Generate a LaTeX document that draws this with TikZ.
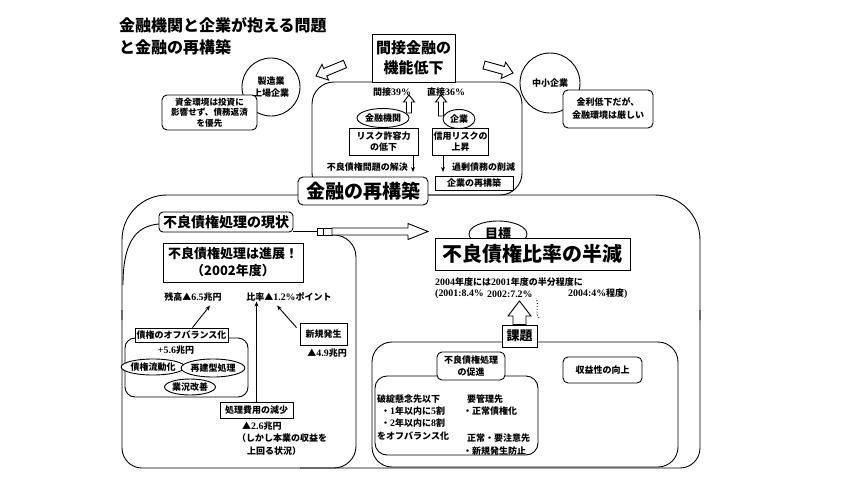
\documentclass[tikz,border=0pt]{standalone}
\usepackage{fontspec}
\setmainfont{Noto Sans CJK JP}
\newfontfamily\tmd[Scale=1.1]{Liberation Serif}
\usetikzlibrary{shapes.geometric,calc,arrows.meta}
\tikzset{
  lw/.style={line width=0.9pt},
  box/.style={draw, lw, fill=white, inner sep=1pt, align=center},
  rbox/.style={box, rounded corners=5pt},
  ell/.style={draw, lw, fill=white, ellipse, inner sep=0pt, align=center},
  txt/.style={inner sep=0pt, align=left},
  f9/.style={font=\fontsize{9}{11.5}\selectfont\bfseries},
  f8/.style={font=\fontsize{8.6}{11}\selectfont\bfseries},
  arr/.style={lw, -{Stealth[length=5pt,width=4pt]}},
  harr/.style={draw, lw, fill=white, line join=miter},
}
\newcommand{\hollowarr}[5]{%
  \coordinate (ha-H) at ($(#2)!#5!(#1)$);
  \draw[harr] ($(#1)!#3!90:(#2)$) -- ($(ha-H)!#3!90:(#2)$) -- ($(ha-H)!#4!90:(#2)$) -- (#2)
    -- ($(ha-H)!#4!-90:(#2)$) -- ($(ha-H)!#3!-90:(#2)$) -- ($(#1)!#3!-90:(#2)$) -- cycle;
}
\begin{document}
\begin{tikzpicture}[x=1pt,y=-1pt]
\fill[white] (0,0) rectangle (844,483);
\useasboundingbox (0,0) rectangle (844,483);

% title
\node[txt, anchor=north west, font=\fontsize{16}{22}\selectfont\bfseries] (title) at (119,17) {金融機関と企業が抱える問題\\と金融の再構築};

% big outer rect
\draw[lw, rounded corners=45] (122,320) -- (122,195) -- (700,195) -- (700,320);
\draw[lw, rounded corners=20] (122,310) -- (122,468) -- (700,468) -- (700,310);

% top rect
\draw[lw, rounded corners=22] (417,195) -- (312,195) -- (312,82) -- (522,82) -- (522,195) -- cycle;

% inner rect (genjo)
\draw[lw] (159,224) .. controls (134,226) and (123,245) .. (123,285);
\draw[lw, rounded corners=22] (330,235) -- (356,235) -- (356,468) -- (300,468);

% kadai rect
\draw[lw, rounded corners=20] (372,342) rectangle (678,467);
\draw[lw, rounded corners=10] (125,338) rectangle (248,397);
\draw[lw, rounded corners=12] (375,376) rectangle (538,455);

% circles top
\node[ell, circle, minimum size=58pt, f9] (seizo) at (271,87) {製造業\\上場企業};
\node[rbox, minimum width=95pt, minimum height=35pt, font=\fontsize{8.6}{10.5}\selectfont\bfseries] (shikin) at (209.5,112.5) {資金環境は投資に\\影響せず、債務返済\\を優先};
\node[ell, circle, minimum size=60pt, f9] (chusho) at (550,83) {中小企業};
\node[rbox, minimum width=90pt, minimum height=38pt, font=\fontsize{9}{13}\selectfont\bfseries] (kinri) at (608,109) {金利低下だが、\\金融環境は厳しい};

% top box
\node[box, minimum width=83pt, minimum height=48pt, font=\fontsize{15}{20}\selectfont\bfseries] (kansetsu) at (413.5,58) {間接金融の\\機能低下};

% top hollow arrows
\coordinate (la1) at (345,64); \coordinate (la2) at (316,76);
\hollowarr{la1}{la2}{4pt}{8.5pt}{10pt}
\coordinate (ra1) at (484,65); \coordinate (ra2) at (513,73);
\hollowarr{ra1}{ra2}{4pt}{8.5pt}{10pt}

% inside top rect
\node[txt, f9] (k39) at (392,92) {間接{\tmd 39\%}};
\node[txt, f9] (c36) at (446,92) {直接{\tmd 36\%}};
\node[ell, f9, minimum width=52pt, minimum height=19pt] (kinyu) at (383,118) {金融機関};
\node[ell, f9, minimum width=32pt, minimum height=19pt] (kigyo) at (459,119) {企業};
\coordinate (ua1) at (409,113); \coordinate (ua2) at (409,95);
\hollowarr{ua1}{ua2}{2.5pt}{5.5pt}{7pt}
\coordinate (ub1) at (441,116); \coordinate (ub2) at (441,95);
\hollowarr{ub1}{ub2}{2.5pt}{5.5pt}{7pt}
\node[box, f9, minimum width=69pt, minimum height=27pt] (risk) at (383.5,141.5) {リスク許容力\\の低下};
\node[box, f9, minimum width=55pt, minimum height=27pt] (shinyo) at (460.5,141.5) {信用リスクの\\上昇};
\node[txt, f9, anchor=east] (furyo) at (408,167) {不良債権問題の解決};
\coordinate (k1) at (413,172);
\draw[arr] (risk.south -| k1) -- (k1);
\node[txt, f9, anchor=west] (kajo) at (452,167) {過剰債務の削減};
\coordinate (k2) at (443,172);
\draw[arr] (shinyo.south -| k2) -- (k2);
\node[box, f9, minimum width=78pt, minimum height=14pt, inner sep=0pt] (kigyosai) at (474,183.5) {企業の再構築};

% kinyu no saikouchiku
\node[rbox, minimum width=130pt, minimum height=28pt, inner sep=0pt, font=\fontsize{19}{22}\selectfont\bfseries] (saikou) at (363,191) {金融の再構築};

% genjo label + arrow
\node[rbox, rounded corners=4pt, minimum width=134pt, minimum height=20pt, inner sep=0pt, font=\fontsize{14}{16}\selectfont\bfseries] (genjo) at (226,222) {不良債権処理の現状};
\node[draw, lw, fill=white, minimum width=6pt, minimum height=7pt, inner sep=0pt] (sq1) at (320,231.5) {};
\node[draw, lw, fill=white, minimum width=9pt, minimum height=7pt, inner sep=0pt] (sq2) at (327.5,231.5) {};
\draw[lw] (genjo.east |- sq1) -- (sq1.west);
\coordinate (ga1) at (332,231.5); \coordinate (ga2) at (428,231.5);
\hollowarr{ga1}{ga2}{3.5pt}{8pt}{20pt}

% left content
\node[box, minimum width=140pt, minimum height=39pt, font=\fontsize{13}{17}\selectfont\bfseries] (shinten) at (233,262.5) {不良債権処理は進展！\\（2002年度）};
\node[txt, f9] (zan) at (193,297) {残高▲{\tmd 6.5}兆円};
\node[txt, f9] (hi) at (289,297) {比率▲{\tmd 1.2\%}ポイント};
\node[box, f9, minimum width=93pt, minimum height=14pt, inner sep=0pt] (off) at (181.5,335) {債権のオフバランス化};
\draw[arr] ([xshift=11pt]off.north) -- ([xshift=17pt,yshift=-4pt]zan.south);
\node[txt, f9] (p56) at (176,350) {{\tmd +5.6}兆円};
\node[ell, f9, minimum width=60pt, minimum height=16pt] (ryudo) at (153,367) {債権流動化};
\node[ell, f9, minimum width=53pt, minimum height=18pt] (saiken) at (213,368) {再建型処理};
\node[ell, f9, minimum width=43pt, minimum height=16pt] (gyokyo) at (190,387) {業況改善};
\node[box, f9, minimum width=47pt, minimum height=22pt] (shinki) at (323.5,334) {新規発生};
\node[txt, f9, anchor=east] (m49) at (347,353) {▲{\tmd 4.9}兆円};
\draw[arr] ([xshift=-3pt,yshift=-5pt]shinki.north west) -- ([xshift=-12pt,yshift=-4pt]hi.south);
\node[box, f9, minimum width=73pt, minimum height=16pt, inner sep=0pt] (shori) at (256.5,410) {処理費用の減少};
\draw[arr] (shori.north) -- (shori.north |- hi.south);
\node[txt, f9, anchor=west] (m26) at (242,426) {▲{\tmd 2.6}兆円};
\node[txt, f9, anchor=west] (shikashi) at (237,438.5) {（しかし本業の収益を};
\node[txt, f9, anchor=west] (uwamawaru) at (247,451) {上回る状況）};

% right content
\node[ell, minimum width=58pt, minimum height=26pt, font=\fontsize{13}{15}\selectfont\bfseries] (mokuhyo) at (498,234) {\raisebox{3pt}{目標}};
\node[box, minimum width=195pt, minimum height=32pt, inner sep=0pt, font=\fontsize{20}{22}\selectfont\bfseries] (hangen) at (532.5,254) {不良債権比率の半減};
\node[txt, f9, anchor=west] (nendo) at (435,282) {{\tmd 2004}年度には{\tmd 2001}年度の半分程度に};
\node[txt, f9, anchor=west] (r1) at (435,294) {{\tmd (2001:8.4\%}};
\node[txt, f9, anchor=west] (r2) at (487,294) {{\tmd 2002:7.2\%}};
\node[txt, f9, anchor=west] (r3) at (568,294) {{\tmd 2004:4\%}程度{\tmd )}};
\draw[lw, dotted] (539,318) .. controls (534,311) and (540,304) .. (536,298);
\node[box, minimum width=35pt, minimum height=22pt, font=\fontsize{13}{15}\selectfont\bfseries] (kadai) at (519.5,336) {課題};
\coordinate (kt) at (519.5,301);
\hollowarr{kadai.north}{kt}{6.5pt}{11.5pt}{15pt}
\node[rbox, f9, minimum width=68pt, minimum height=28pt] (sokushin) at (471,366) {不良債権処理\\の促進};
\node[rbox, f9, minimum width=79pt, minimum height=26pt] (shueki) at (602.5,370) {収益性の向上};
\node[txt, f9, anchor=west] (t1) at (377,399) {破綻懸念先以下};
\node[txt, f9, anchor=west] (t2) at (381,411) {・{\tmd 1}年以内に{\tmd 5}割};
\node[txt, f9, anchor=west] (t3) at (381,423) {・{\tmd 2}年以内に{\tmd 8}割};
\node[txt, f9, anchor=west] (t4) at (377,436) {をオフバランス化};
\node[txt, f9, anchor=west] (u1) at (467,399) {要管理先};
\node[txt, f9, anchor=west] (u2) at (463,411) {・正常債権化};
\node[txt, f9, anchor=west] (u3) at (467,438) {正常・要注意先};
\node[txt, f9, anchor=west] (u4) at (463,451) {・新規発生防止};
\end{tikzpicture}
\end{document}
